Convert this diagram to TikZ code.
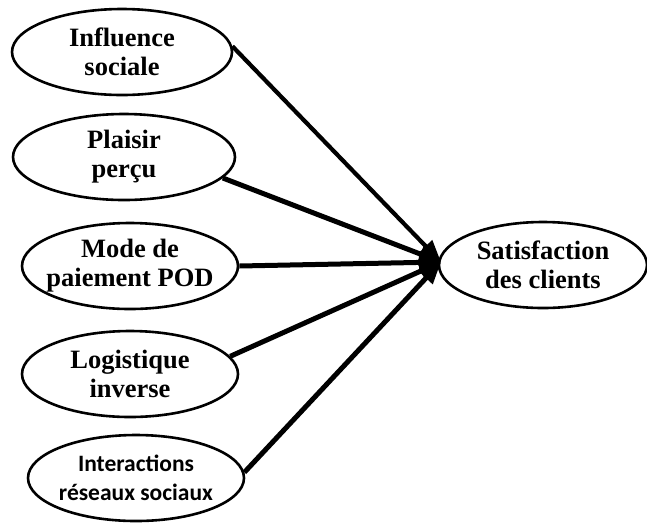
\documentclass[tikz,border=0pt]{standalone}
\usepackage{fontspec}
\newfontfamily\tnr{Liberation Serif}[BoldFont={Liberation Serif Bold}]
\newfontfamily\calib{Carlito}[BoldFont={Carlito Bold}]
\usetikzlibrary{shapes.geometric,arrows.meta}
\begin{document}
\begin{tikzpicture}[x=1pt,y=-1pt,
  oval/.style={draw,ellipse,line width=2.6pt,minimum width=#1,minimum height=86pt,inner xsep=-40pt,inner ysep=-12pt,align=center,
    font=\tnr\bfseries\fontsize{26.5}{29}\selectfont},
  oval/.default=218pt,
  link/.style={line width=5pt,-{Triangle[length=22pt,width=17pt]}}]
\useasboundingbox (0,0) rectangle (647,523);
\node[oval=220pt] (e1) at (122,52) {Influence\\sociale};
\node[oval=222pt] (e2) at (124,157) {Plaisir\\perçu};
\node[oval=216pt] (e3) at (130,266) {Mode de\\paiement POD};
\node[oval=216pt] (e4) at (130,374) {Logistique\\inverse};
\node[oval=216pt,font=\calib\bfseries\fontsize{23.5}{29}\selectfont] (e5) at (136,478) {Interactions\\réseaux sociaux};
\node[oval=208pt] (s) at (543,265) {Satisfaction\\des clients};
\coordinate (tip) at (441,262);
\draw[link,line width=4.2pt] (e1.3) -- (tip);
\draw[link] (e2.-12) -- (tip);
\draw[link] (e3.east) -- (tip);
\draw[link] (e4.10) -- (tip);
\draw[link] (e5.3) -- (tip);
\end{tikzpicture}
\end{document}
